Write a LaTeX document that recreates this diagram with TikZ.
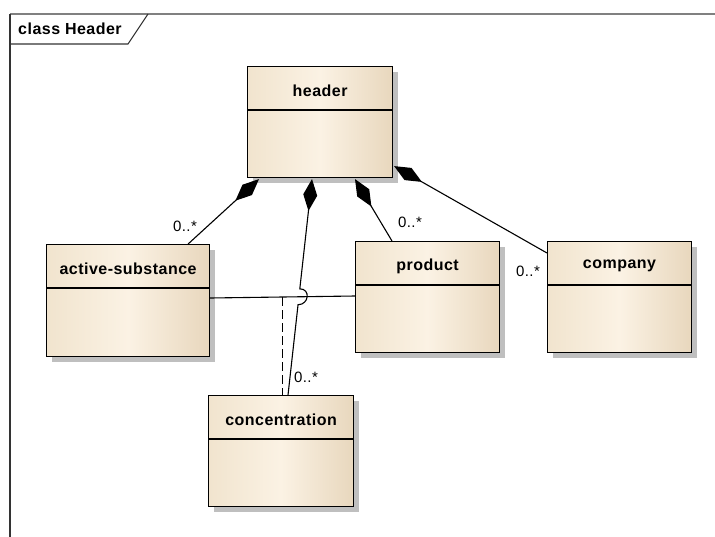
\documentclass[tikz,border=0pt]{standalone}
\usepackage{fontspec}
\setmainfont{Liberation Sans}[LetterSpace=3]
\usetikzlibrary{arrows.meta,calc,shadows,intersections}
\definecolor{cL}{HTML}{F1E4CE}
\definecolor{cM}{HTML}{FBF2E4}
\definecolor{cR}{HTML}{E8D7BD}
\begin{document}
\begin{tikzpicture}[x=1pt,y=-1pt,
  classbox/.style={draw=black, line width=1.1pt, rectangle, inner sep=0pt, anchor=north west,
     left color=cL, right color=cR, middle color=cM,
     drop shadow={shadow xshift=5pt, shadow yshift=-5pt, fill=black!25, opacity=1}},
  classtitle/.style={font=\fontsize{16}{19}\selectfont\bfseries, inner sep=0pt},
  sepline/.style={line width=1.1pt},
  comp/.style={line width=1.1pt, {Diamond[length=32pt,width=14pt]}-},
  assocline/.style={line width=1.1pt},
  mult/.style={font=\fontsize{15}{18}\selectfont, inner sep=0pt},
]
\useasboundingbox (0,0) rectangle (715,536);
% frame
\draw[black!50, line width=1.8pt] (10,14) -- (720,14);
\draw[black!80, line width=1.5pt] (10,14) -- (10,540);
\draw[black!80, line width=1.1pt] (10,44) -- (128,44) -- (148,14);
\node[classtitle, anchor=west] (frametitle) at (18,29) {class Header};

% classes
\node[classbox, minimum width=145pt, minimum height=111pt] (header) at (247,66) {};
\node[classbox, minimum width=163pt, minimum height=112pt] (as) at (46,244) {};
\node[classbox, minimum width=144pt, minimum height=111pt] (prod) at (355,241) {};
\node[classbox, minimum width=144pt, minimum height=111pt] (comp) at (547,241) {};
\node[classbox, minimum width=145pt, minimum height=111pt] (conc) at (208,395) {};

\foreach \n in {header,as,prod,comp,conc}{
  \draw[sepline] ($(\n.north west)+(0,44)$) -- ($(\n.north east)+(0,44)$);
}
\node[classtitle] (header-t) at ($(header.north)+(0,25)$) {header};
\node[classtitle] (as-t) at ($(as.north)+(0,25)$) {active-substance};
\node[classtitle] (prod-t) at ($(prod.north)+(0,25)$) {product};
\node[classtitle] (comp-t) at ($(comp.north)+(0,25)$) {company};
\node[classtitle] (conc-t) at ($(conc.north)+(0,25)$) {concentration};

% association active-substance -- product
\coordinate (aA) at ($(as.north east)+(0,54)$);
\coordinate (aB) at ($(prod.north west)+(0,55)$);
\draw[assocline, name path=assoc] (aA) -- (aB);
% association class dashed link
\coordinate (aM) at ($(aA)!0.5!(aB)$);
\draw[assocline, dashed, dash pattern=on 9pt off 4pt] (aM) -- (aM |- conc.north);

% compositions
\draw[comp] ($(header.south west)+(12,1)$) -- ($(as.north east)+(-22,0)$);
\draw[comp] ($(header.south west)+(108,1)$) -- ($(prod.north west)+(37,0)$);
\draw[comp] ($(header.south east)+(1,-12)$) -- ($(comp.north west)+(0,12)$);

\coordinate (cS) at ($(header.south west)+(65,1)$);
\coordinate (cE) at ($(conc.north west)+(80,0)$);
\path[name path=cline] (cS) -- (cE);
\path[name intersections={of=assoc and cline, by=cX}];
\draw[comp] (cS) -- ($(cX)!8pt!(cS)$) .. controls +(11,0) and +(11,0) .. ($(cX)!8pt!(cE)$) -- (cE);

% multiplicities
\node[mult] (m1) at (185,226) {0..*};
\node[mult] (m2) at (410,222) {0..*};
\node[mult] (m3) at (528,271) {0..*};
\node[mult] (m4) at (306,377) {0..*};
\end{tikzpicture}
\end{document}
